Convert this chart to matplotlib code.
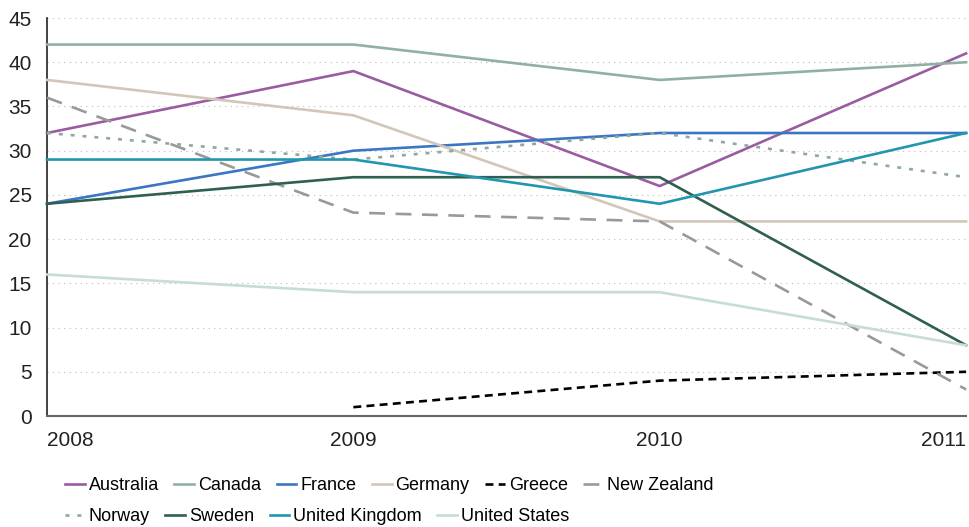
import matplotlib
matplotlib.use("Agg")
import matplotlib.pyplot as plt
import numpy as np

plt.rcParams['font.family'] = ['Liberation Sans', 'DejaVu Sans']

years = [2008, 2009, 2010, 2011]
australia = [32, 39, 26, 41]
canada = [42, 42, 38, 40]
france = [24, 30, 32, 32]
germany = [38, 34, 22, 22]
greece = [np.nan, 1, 4, 5]
new_zealand = [36, 23, 22, 3]
norway = [32, 29, 32, 27]
sweden = [24, 27, 27, 8]
united_kingdom = [29, 29, 24, 32]
united_states = [16, 14, 14, 8]
y_ticks = [0, 5, 10, 15, 20, 25, 30, 35, 40, 45]

series = [
    ("Australia", australia, '#9b5ba0', '-'),
    ("Canada", canada, '#8fb0a3', '-'),
    ("France", france, '#3b76c2', '-'),
    ("Germany", germany, '#d2c6b8', '-'),
    ("Greece", greece, '#000000', (0, (3, 2))),
    ("New Zealand", new_zealand, '#999999', (0, (6, 4))),
    ("Norway", norway, '#8fa8a0', (0, (1.5, 3))),
    ("Sweden", sweden, '#2f5f50', '-'),
    ("United Kingdom", united_kingdom, '#2296ae', '-'),
    ("United States", united_states, '#c6ddd4', '-'),
]

fig = plt.figure(figsize=(9.69, 5.27), dpi=100)
ax = fig.add_axes([0.0485, 0.2106, 0.9485, 0.7552])

handles = []
for name, vals, color, ls in series:
    h, = ax.plot(years, vals, color=color, linestyle=ls, linewidth=1.9,
                 label=name, clip_on=False, zorder=3)
    handles.append(h)

ax.set_xlim(2008, 2011)
ax.set_ylim(0, 45)
ax.set_yticks(y_ticks)
ax.set_yticklabels([str(t) for t in y_ticks])
ax.set_xticks(years)
ax.set_xticklabels([str(y) for y in years])
for lbl, ha in zip(ax.get_xticklabels(), ['left', 'center', 'center', 'right']):
    lbl.set_ha(ha)

# dotted horizontal guides
for t in y_ticks[1:]:
    ax.axhline(t, color='#bbbbbb', linestyle=(0, (1, 4)), linewidth=0.8, zorder=1)

ax.tick_params(axis='y', length=0, labelsize=15, colors='#222222', pad=11)
ax.tick_params(axis='x', length=0, labelsize=15, colors='#222222', pad=11)
for s in ['top', 'right']:
    ax.spines[s].set_visible(False)
ax.spines['left'].set_color('#222222')
ax.spines['left'].set_linewidth(1.2)
ax.spines['bottom'].set_color('#666666')
ax.spines['bottom'].set_linewidth(1.5)

# two legend rows, each flowing left to right
leg_kw = dict(frameon=False, fontsize=13, handlelength=1.1, handletextpad=0.22,
              columnspacing=0.85, borderaxespad=0, borderpad=0, loc='upper left')
leg1 = fig.legend(handles[:6], [s[0] for s in series[:6]], ncol=6,
                  bbox_to_anchor=(0.067, 0.094), **leg_kw)
leg2 = fig.legend(handles[6:], [s[0] for s in series[6:]], ncol=4,
                  bbox_to_anchor=(0.067, 0.036), **leg_kw)

fig.savefig("out.png", dpi=100)
